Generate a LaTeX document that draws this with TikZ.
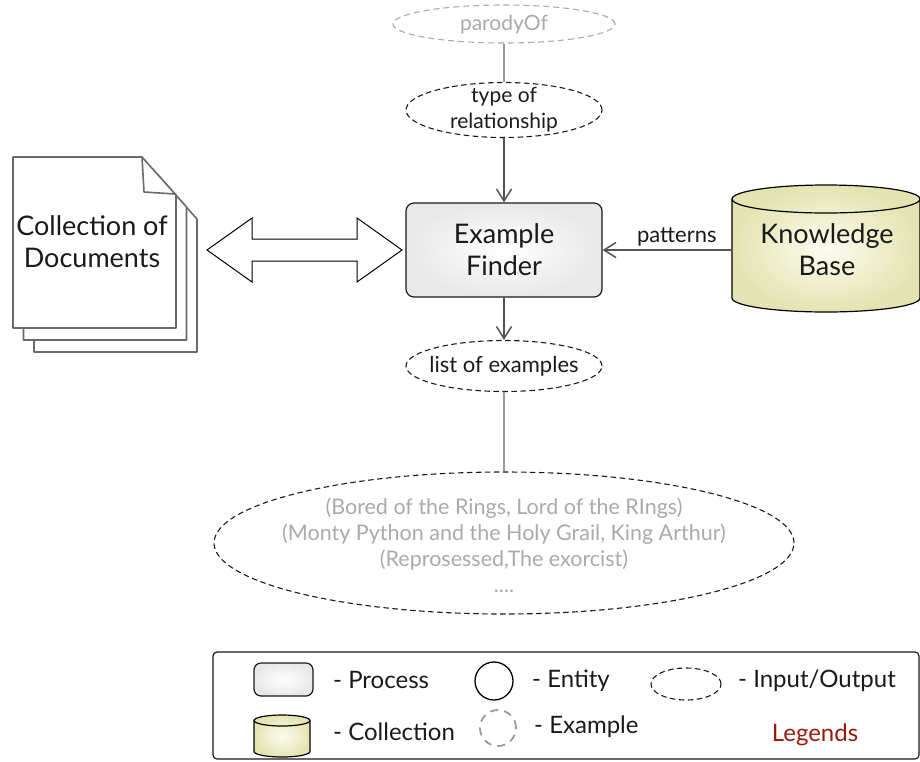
\documentclass[tikz,border=0pt]{standalone}
\usepackage{fontspec}
\setmainfont{Lato}
\usetikzlibrary{arrows.meta,shapes.geometric}
\definecolor{txt}{HTML}{1A1A1A}
\definecolor{arrowgray}{HTML}{555555}
\definecolor{lightgray}{HTML}{AAAAAA}
\definecolor{linegray}{HTML}{999999}
\definecolor{pagegray}{HTML}{6A6A6A}
\definecolor{cylout}{HTML}{E4E4B2}
\definecolor{cylin}{HTML}{FCFCF0}
\definecolor{legred}{HTML}{9A1A0A}
\begin{document}
\begin{tikzpicture}[x=1pt,y=-1pt,
  lbl/.style={text=txt, align=center, inner sep=0},
  bigtext/.style={font=\fontsize{27}{32}\selectfont},
  midtext/.style={font=\fontsize{21}{26}\selectfont},
  legtext/.style={text=txt, anchor=west, inner sep=0, font=\fontsize{24}{28}\selectfont},
  iostyle/.style={ellipse, draw=txt, line width=1.1pt, dash pattern=on 5.5pt off 3.5pt, inner sep=0},
  flow/.style={draw=arrowgray, line width=1.5pt, -{Straight Barb[length=12pt,width=15pt,line width=1.5pt]}},
  thinline/.style={draw=linegray, line width=1.5pt},
  procbox/.style={draw=txt, line width=1.2pt, inner color=white, outer color=black!9},
  pagestyle/.style={draw=pagegray, line width=1.6pt, fill=white, line join=round},
  cylstyle/.style={draw=black, line width=1.2pt, inner color=cylin, outer color=cylout}
]
\useasboundingbox (0,0) rectangle (920,761);

% parodyOf
\node[iostyle, draw=lightgray, dash pattern=on 6pt off 4pt, minimum width=222, minimum height=38] (par) at (504,24) {};
\node[lbl, text=lightgray, midtext] (partxt) at (504,25) {parodyOf};

% type of relationship
\node[iostyle, minimum width=196, minimum height=55] (tor) at (504,110) {};
\node[lbl, midtext] (tortxt) at (504,110) {type of\\relationship};
\draw[thinline] (par.south) -- (tor.north);

% Example Finder
\node[procbox, rounded corners=8pt, minimum width=196, minimum height=94, lbl, bigtext] (ef) at (504,250) {Example\\Finder};
\draw[flow] (tor.south) -- (ef.north);

% list of examples
\node[iostyle, minimum width=196, minimum height=51] (loe) at (504,366) {};
\node[lbl, font=\fontsize{22}{26}\selectfont] (loetxt) at (504,366) {list of examples};
\draw[flow] (ef.south) -- (loe.north);

% examples
\node[iostyle, minimum width=580, minimum height=142] (exs) at (504,543) {};
\node[lbl, text=lightgray, font=\fontsize{21.5}{26}\selectfont] (exstxt) at (504,545)
  {(Bored of the Rings, Lord of the RIngs)\\(Monty Python and the Holy Grail, King Arthur)\\(Reprosessed,The exorcist)\\....};
\draw[thinline] (loe.south) -- (exs.north);

% Knowledge base cylinder
\path[cylstyle] (732,199) -- (732,298) arc[start angle=180, end angle=0, x radius=94, y radius=14]
  -- (920,199) arc[start angle=0, end angle=-180, x radius=94, y radius=14] -- cycle;
\draw[black, line width=1.2pt] (732,199) arc[start angle=180, end angle=0, x radius=94, y radius=14];
\node[lbl, bigtext, minimum width=188, minimum height=127] (kb) at (827,250) {Knowledge\\Base};
\draw[flow] (kb.west) -- node[pos=0.43, above=3pt, inner sep=0, text=txt, font=\fontsize{22}{26}\selectfont] (pat) {patterns} (ef.east);

% Collection of documents
\foreach \dx/\dy in {21/24, 10.5/12, 0/0} {
  \draw[pagestyle] (13+\dx,157+\dy) -- (142+\dx,157+\dy) -- (176+\dx,195+\dy) -- (176+\dx,328+\dy) -- (13+\dx,328+\dy) -- cycle;
}
\draw[pagestyle, fill=none] (142,157) -- (144,192) -- (175,194);
\node[lbl, bigtext, minimum width=163, minimum height=171] (docs) at (92,242) {Collection of\\Documents};

% double arrow between documents and finder
\draw[black, line width=1pt, fill=white, line join=miter]
  (207,250) -- (252,218) -- (252,239) -- (357,239) -- (357,218) -- (402,250)
  -- (357,282) -- (357,261) -- (252,261) -- (252,282) -- cycle;

% Legend
\node[draw=txt, line width=1.2pt, rounded corners=4pt, minimum width=706, minimum height=107, inner sep=0] (leg) at (566,705.5) {};
\node[procbox, rounded corners=7pt, minimum width=59, minimum height=33, inner sep=0] (lproc) at (283.5,679.5) {};
\node[legtext] (lproct) at (333,680) {- Process};
\node[circle, draw=black, line width=1.3pt, minimum size=38, inner sep=0] (lent) at (494,681) {};
\node[legtext] (lentt) at (532,681) {- Entity};
\node[iostyle, minimum width=70, minimum height=32] (lio) at (686,684) {};
\node[legtext] (liot) at (738,681) {- Input/Output};
\path[cylstyle] (254,720.5) -- (254,751.5) arc[start angle=180, end angle=0, x radius=28, y radius=5.5]
  -- (310,720.5) arc[start angle=0, end angle=-180, x radius=28, y radius=5.5] -- cycle;
\draw[black, line width=1.2pt] (254,720.5) arc[start angle=180, end angle=0, x radius=28, y radius=5.5];
\node[inner sep=0, minimum width=56, minimum height=42] (lcol) at (282,736) {};
\node[legtext] (lcolt) at (333,732) {- Collection};
\node[circle, draw=linegray, line width=1.8pt, dash pattern=on 8pt off 6pt, minimum size=36, inner sep=0] (lexm) at (498,728) {};
\node[legtext] (lexmt) at (534,727) {- Example};
\node[inner sep=0, text=legred, font=\fontsize{24}{28}\selectfont] (legt) at (815,735) {Legends};
\end{tikzpicture}
\end{document}
